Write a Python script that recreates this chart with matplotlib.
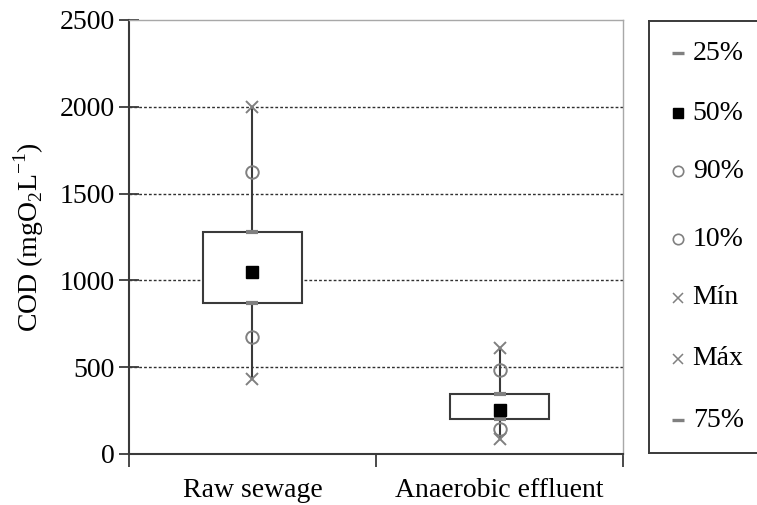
import matplotlib.pyplot as plt
from matplotlib.patches import Rectangle

plt.rcParams['font.family'] = ['Liberation Serif', 'DejaVu Serif']
plt.rcParams['mathtext.fontset'] = 'custom'
plt.rcParams['mathtext.rm'] = 'Liberation Serif'

# COD statistics per sample point
categories = ['Raw sewage', 'Anaerobic effluent']
p25 = [868, 202]
p50 = [1050, 254]
p75 = [1280, 346]
p10 = [675, 144]
p90 = [1622, 485]
v_min = [433, 87]
v_max = [2000, 612]

legend_labels = ['25%', '50%', '90%', '10%', 'Mín', 'Máx', '75%']

grey = '#808080'
dark = '#3a3a3a'

fig = plt.figure(figsize=(7.57, 5.05), dpi=100)
ax = fig.add_axes([0.1704, 0.101, 0.6526, 0.8594])

xs = [0, 1]
box_w = 0.40
for i, x in enumerate(xs):
    # whiskers
    ax.plot([x, x], [p75[i], v_max[i]], color=dark, lw=1.5, zorder=3)
    ax.plot([x, x], [v_min[i], p25[i]], color=dark, lw=1.5, zorder=3)
    ax.add_patch(Rectangle((x - box_w / 2, p25[i]), box_w, p75[i] - p25[i],
                           facecolor='white', edgecolor=dark, lw=1.5, zorder=2))

ax.plot(xs, p25, ls='none', marker='_', ms=9, mew=3, color=grey, zorder=4)
ax.plot(xs, p75, ls='none', marker='_', ms=9, mew=3, color=grey, zorder=4)
ax.plot(xs, p50, ls='none', marker='s', ms=8, color='black', zorder=5)
ax.plot(xs, p90, ls='none', marker='o', ms=9, mfc='none', mec=grey, mew=1.4, zorder=4)
ax.plot(xs, p10, ls='none', marker='o', ms=9, mfc='none', mec=grey, mew=1.4, zorder=4)
ax.plot(xs, v_min, ls='none', marker='x', ms=9, color=grey, mew=1.4, zorder=4)
ax.plot(xs, v_max, ls='none', marker='x', ms=9, color=grey, mew=1.4, zorder=4)

ax.set_xlim(-0.5, 1.5)
ax.set_ylim(0, 2500)
ax.set_yticks([0, 500, 1000, 1500, 2000, 2500])
ax.set_xticks([-0.5, 0.5, 1.5])
ax.set_xticklabels(['', '', ''])
ax.set_xticks(xs, minor=True)
ax.set_xticklabels(categories, minor=True)
ax.tick_params(axis='x', which='minor', length=0, pad=17, labelsize=20)
ax.tick_params(axis='x', which='major', length=9, width=1.3, direction='out', color=dark)
ax.tick_params(axis='y', length=14, width=1.3, direction='inout', labelsize=20, color=dark, pad=3)
ax.set_ylabel('COD (mgO$_2$L$^{-1}$)', fontsize=20, labelpad=10)

for v in [500, 1000, 1500, 2000]:
    ax.axhline(v, color='#303030', ls=(0, (2, 1.5)), lw=1.0, zorder=1)

for s in ['top', 'right']:
    ax.spines[s].set_color('#a8a8a8')
    ax.spines[s].set_linewidth(1.0)
for s in ['left', 'bottom']:
    ax.spines[s].set_color(dark)
    ax.spines[s].set_linewidth(1.5)

# legend panel
lax = fig.add_axes([0.857, 0.103, 0.2, 0.855])
lax.set_xlim(0, 1)
lax.set_ylim(0, 1)
lax.set_xticks([])
lax.set_yticks([])
for s in lax.spines.values():
    s.set_color(dark)
    s.set_linewidth(1.4)

markers = [
    dict(marker='_', ms=8, mew=2.4, color=grey),
    dict(marker='s', ms=6.5, color='black'),
    dict(marker='o', ms=7.5, mfc='none', mec=grey, mew=1.2),
    dict(marker='o', ms=7.5, mfc='none', mec=grey, mew=1.2),
    dict(marker='x', ms=6.5, color=grey, mew=1.1),
    dict(marker='x', ms=6.5, color=grey, mew=1.1),
    dict(marker='_', ms=8, mew=2.4, color=grey),
]
ys = [0.926, 0.787, 0.653, 0.495, 0.359, 0.218, 0.076]
for y, lab, mk in zip(ys, legend_labels, markers):
    lax.plot([0.19], [y], ls='none', **mk)
    lax.text(0.29, y, lab, fontsize=20, va='center', ha='left')

fig.savefig('out.png', dpi=100)
